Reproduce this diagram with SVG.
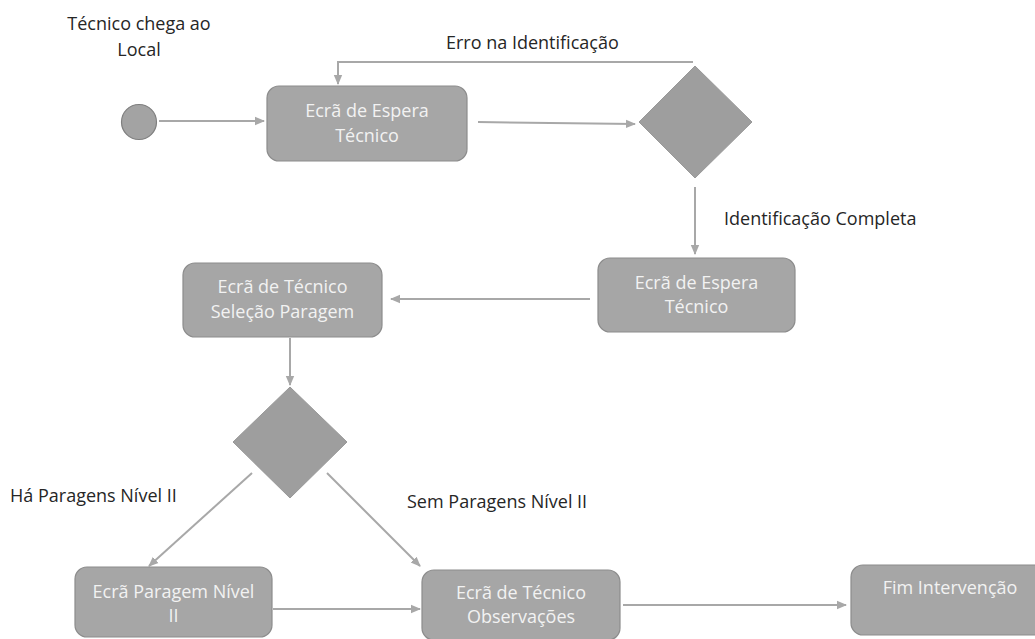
<svg xmlns="http://www.w3.org/2000/svg" width="1035" height="639" viewBox="0 0 1035 639">
  <style>
    .box { fill: #a6a6a6; stroke: #8c8c8c; stroke-width: 1.2; }
    .dec { fill: #9e9e9e; stroke: #999999; stroke-width: 1; }
    .start { fill: #a3a3a3; stroke: #7f7f7f; stroke-width: 1.2; }
    .boxtxt { font-family: "Open Sans", "Liberation Sans", sans-serif; font-size: 18px; fill: #f2f2f2; text-anchor: middle; }
    .lbl { font-family: "Open Sans", "Liberation Sans", sans-serif; font-size: 18px; fill: #262626; }
    .conn { fill: none; stroke: #a8a8a8; stroke-width: 2; marker-end: url(#arrow); }
  </style>
  <defs>
    <marker id="arrow" markerUnits="userSpaceOnUse" markerWidth="10" markerHeight="10" viewBox="0 0 10 10" refX="9" refY="5" orient="auto">
      <path d="M0,0.8 L10,5 L0,9.2 z" fill="#a8a8a8"/>
    </marker>
  </defs>

  <rect width="1035" height="639" fill="#ffffff"/>

  <!-- connectors -->
  <g id="connectors">
    <line class="conn" x1="159" y1="121" x2="264" y2="121"/>
    <line class="conn" x1="478" y1="122" x2="635" y2="124"/>
    <polyline class="conn" points="693,62 338,62 338,84"/>
    <line class="conn" x1="695" y1="187" x2="695" y2="254"/>
    <line class="conn" x1="590" y1="299" x2="391" y2="299"/>
    <line class="conn" x1="290" y1="338" x2="290" y2="385"/>
    <line class="conn" x1="252" y1="473" x2="149" y2="566"/>
    <line class="conn" x1="327" y1="473" x2="420" y2="566"/>
    <line class="conn" x1="273" y1="609" x2="420" y2="609"/>
    <line class="conn" x1="623" y1="605" x2="846" y2="605"/>
  </g>

  <!-- start -->
  <g id="start">
    <circle class="start" cx="139" cy="122" r="17.5"/>
  </g>

  <g id="wait1">
    <rect class="box" x="267" y="86" width="200" height="75" rx="12"/>
    <text class="boxtxt" x="367" y="117">Ecrã de Espera</text>
    <text class="boxtxt" x="367" y="142">Técnico</text>
  </g>

  <g id="decision1">
    <polygon class="dec" points="695,66 752,122 695,178 639,122"/>
  </g>

  <g id="wait2">
    <rect class="box" x="598" y="258" width="197" height="74" rx="12"/>
    <text class="boxtxt" x="696.5" y="289">Ecrã de Espera</text>
    <text class="boxtxt" x="696.5" y="313">Técnico</text>
  </g>

  <g id="selection">
    <rect class="box" x="183" y="263" width="199" height="74" rx="12"/>
    <text class="boxtxt" x="282.5" y="293">Ecrã de Técnico</text>
    <text class="boxtxt" x="282.5" y="318">Seleção Paragem</text>
  </g>

  <g id="decision2">
    <polygon class="dec" points="290,387 347,442 290,498 233,442"/>
  </g>

  <g id="level2">
    <rect class="box" x="75" y="567" width="197" height="70" rx="12"/>
    <text class="boxtxt" x="173.5" y="598">Ecrã Paragem Nível</text>
    <text class="boxtxt" x="173.5" y="622">II</text>
  </g>

  <g id="observations">
    <rect class="box" x="422" y="570" width="198" height="70" rx="12"/>
    <text class="boxtxt" x="521" y="599">Ecrã de Técnico</text>
    <text class="boxtxt" x="521" y="623">Observações</text>
  </g>

  <g id="end">
    <rect class="box" x="851" y="565" width="198" height="70" rx="12"/>
    <text class="boxtxt" x="950" y="594">Fim Intervenção</text>
  </g>

  <!-- labels -->
  <g id="labels">
    <text class="lbl" x="139" y="30" text-anchor="middle">Técnico chega ao</text>
    <text class="lbl" x="139" y="56" text-anchor="middle">Local</text>
    <text class="lbl" x="446" y="49">Erro na Identificação</text>
    <text class="lbl" x="724" y="225">Identificação Completa</text>
    <text class="lbl" x="10" y="502">Há Paragens Nível II</text>
    <text class="lbl" x="407" y="508">Sem Paragens Nível II</text>
  </g>
</svg>
